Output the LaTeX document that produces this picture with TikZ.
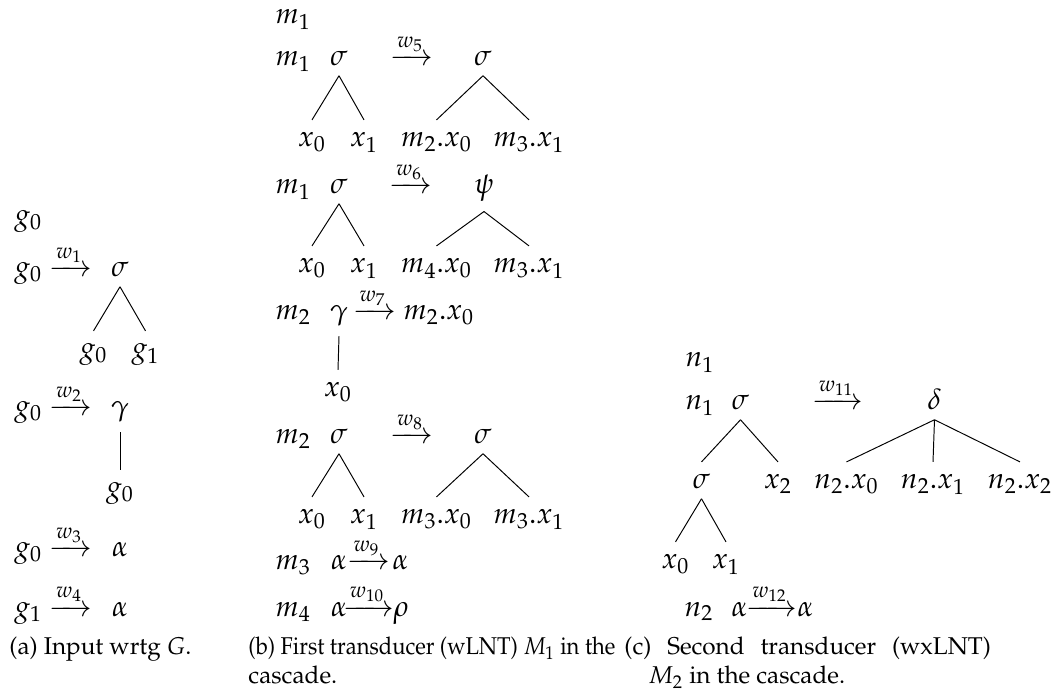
\documentclass[tikz,border=0pt]{standalone}
\usepackage{amsmath}
\usepackage{graphicx}
\usepackage[T1]{fontenc}
\usepackage{mathpazo}
\newcommand{\mfont}{\fontsize{12}{14.4}\selectfont}
\tikzset{
  lt/.style={anchor=base west, inner sep=0pt, font=\mfont},
  ct/.style={anchor=base, inner sep=0pt, font=\mfont},
  captxt/.style={anchor=base west, inner sep=0pt, font=\fontsize{10}{12}\selectfont},
  tn/.style={anchor=base, inner xsep=0pt, inner ysep=3.7pt, text height=7.25pt, font=\mfont},
  branch/.style={line width=0.4pt}
}
\begin{document}
\begin{tikzpicture}[x=0.4115pt,y=-0.4115pt]
\useasboundingbox (0,0) rectangle (1063,698);
% ---------------- (a) ----------------
\node[lt] (ah) at (14,225) {$g_0$};
\node[lt] (a1s) at (14,277) {$g_0$};
\node[ct] (a1w) at (71,277) {$\xrightarrow{w_1}$};
\node[tn] (a1r) at (120,277) {$\sigma$};
\node[tn] (a1c0) at (93.5,358) {$g_0$};
\node[tn] (a1c1) at (145.5,358) {$g_1$};
\draw[branch] (a1r.south) -- (a1c0.north);
\draw[branch] (a1r.south) -- (a1c1.north);
\node[lt] (a2s) at (14,416) {$g_0$};
\node[ct] (a2w) at (71,416) {$\xrightarrow{w_2}$};
\node[tn] (a2r) at (120,416) {$\gamma$};
\node[tn] (a2c0) at (120,497) {$g_0$};
\draw[branch] (a2r.south) -- (a2c0.north);
\node[lt] (a3s) at (14,557) {$g_0$};
\node[ct] (a3w) at (71,557) {$\xrightarrow{w_3}$};
\node[tn] (a3r) at (120,557) {$\alpha$};
\node[lt] (a4s) at (14,616) {$g_1$};
\node[ct] (a4w) at (71,616) {$\xrightarrow{w_4}$};
\node[tn] (a4r) at (120,616) {$\alpha$};
\node[captxt] (acap) at (9,655) {(a) Input wrtg $G$.};
% ---------------- (b) ----------------
\node[lt] (bh) at (275,24) {$m_1$};
% rule 1
\node[lt] (b1s) at (275,66) {$m_1$};
\node[tn] (b1l) at (339,66) {$\sigma$};
\node[ct] (b1w) at (412,66) {$\xrightarrow{w_5}$};
\node[tn] (b1r) at (483,66) {$\sigma$};
\node[tn] (b1l0) at (312,147) {$x_0$};
\node[tn] (b1l1) at (364,147) {$x_1$};
\node[tn] (b1r0) at (436.5,147) {$m_2.x_0$};
\node[tn] (b1r1) at (529,147) {$m_3.x_1$};
\draw[branch] (b1l.south) -- (b1l0.north);
\draw[branch] (b1l.south) -- (b1l1.north);
\draw[branch] (b1r.south) -- (b1r0.north);
\draw[branch] (b1r.south) -- (b1r1.north);
% rule 2
\node[lt] (b2s) at (275,194) {$m_1$};
\node[tn] (b2l) at (339,194) {$\sigma$};
\node[ct] (b2w) at (411,194) {$\xrightarrow{w_6}$};
\node[tn] (b2r) at (484,194) {$\psi$};
\node[tn] (b2l0) at (312,273) {$x_0$};
\node[tn] (b2l1) at (364,273) {$x_1$};
\node[tn] (b2r0) at (436.5,273) {$m_4.x_0$};
\node[tn] (b2r1) at (529,273) {$m_3.x_1$};
\draw[branch] (b2l.south) -- (b2l0.north);
\draw[branch] (b2l.south) -- (b2l1.north);
\draw[branch] (b2r.south) -- (b2r0.north);
\draw[branch] (b2r.south) -- (b2r1.north);
% rule 3
\node[lt] (b3s) at (275,320) {$m_2$};
\node[tn] (b3l) at (339,320) {$\gamma$};
\node[ct] (b3w) at (374.5,320) {$\xrightarrow{w_7}$};
\node[lt] (b3r) at (403,320) {$m_2.x_0$};
\node[tn] (b3l0) at (338,397) {$x_0$};
\draw[branch] (b3l.south) -- (b3l0.north);
% rule 4
\node[lt] (b4s) at (275,444) {$m_2$};
\node[tn] (b4l) at (339,444) {$\sigma$};
\node[ct] (b4w) at (412,444) {$\xrightarrow{w_8}$};
\node[tn] (b4r) at (483,444) {$\sigma$};
\node[tn] (b4l0) at (312,524) {$x_0$};
\node[tn] (b4l1) at (364,524) {$x_1$};
\node[tn] (b4r0) at (436.5,524) {$m_3.x_0$};
\node[tn] (b4r1) at (529,524) {$m_3.x_1$};
\draw[branch] (b4l.south) -- (b4l0.north);
\draw[branch] (b4l.south) -- (b4l1.north);
\draw[branch] (b4r.south) -- (b4r0.north);
\draw[branch] (b4r.south) -- (b4r1.north);
% rules 5, 6
\node[lt] (b5s) at (275,570) {$m_3$};
\node[ct] (b5l) at (339,570) {$\alpha$};
\node[ct] (b5w) at (368.5,570) {$\xrightarrow{w_9}$};
\node[lt] (b5r) at (392,570) {$\alpha$};
\node[lt] (b6s) at (275,616) {$m_4$};
\node[ct] (b6l) at (339,616) {$\alpha$};
\node[ct] (b6w) at (369,616) {$\xrightarrow{w_{10}}$};
\node[lt] (b6r) at (393,616) {$\rho$};
\node[captxt] (bcap1) at (248,655) {\resizebox{151pt}{\height}{(b) First transducer (wLNT) $M_1$ in the}};
\node[captxt] (bcap2) at (248,684) {cascade.};
% ---------------- (c) ----------------
\node[lt] (ch) at (685,367) {$n_1$};
\node[lt] (c1s) at (685,410) {$n_1$};
\node[tn] (c1l) at (740.5,410) {$\sigma$};
\node[ct] (c1w) at (838,410) {$\xrightarrow{w_{11}}$};
\node[tn] (c1r) at (934.5,410) {$\delta$};
\node[tn] (c1l0) at (701.5,489) {$\sigma$};
\node[tn] (c1l1) at (778,489) {$x_2$};
\node[tn] (c1l00) at (675.5,569) {$x_0$};
\node[tn] (c1l01) at (726,569) {$x_1$};
\node[tn] (c1r0) at (846.5,489) {$n_2.x_0$};
\node[tn] (c1r1) at (933,489) {$n_2.x_1$};
\node[tn] (c1r2) at (1020,489) {$n_2.x_2$};
\draw[branch] (c1l.south) -- (c1l0.north);
\draw[branch] (c1l.south) -- (c1l1.north);
\draw[branch] (c1l0.south) -- (c1l00.north);
\draw[branch] (c1l0.south) -- (c1l01.north);
\draw[branch] (c1r.south) -- (c1r0.north);
\draw[branch] (c1r.south) -- (c1r1.north);
\draw[branch] (c1r.south) -- (c1r2.north);
\node[lt] (c2s) at (684,616) {$n_2$};
\node[ct] (c2l) at (739.5,616) {$\alpha$};
\node[ct] (c2w) at (771.5,616) {$\xrightarrow{w_{12}}$};
\node[lt] (c2r) at (797,616) {$\alpha$};
\node[captxt] (ccap1) at (624,655) {\hbox to 150.8pt{(c) Second transducer (wxLNT)}};
\node[captxt] (ccap2) at (648,684) {$M_2$ in the cascade.};
\end{tikzpicture}
\end{document}
